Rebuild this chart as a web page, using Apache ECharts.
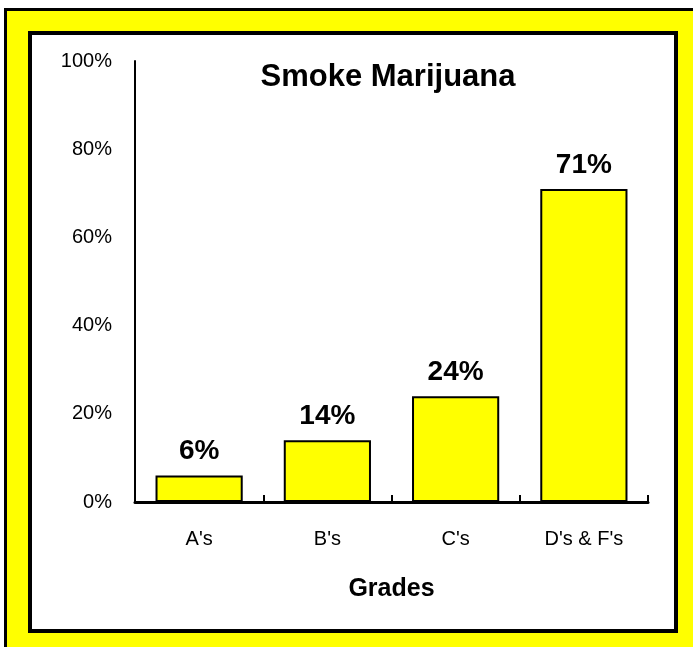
<!DOCTYPE html>
<html><head><meta charset="utf-8">
<script src="https://cdn.jsdelivr.net/npm/echarts@6/dist/echarts.min.js"></script>
<style>html,body{margin:0;padding:0;background:#fff}#c{width:693px;height:647px}</style>
</head><body><div id="c"></div>
<script>
var categories = ["A's", "B's", "C's", "D's & F's"];
var values = [6, 14, 24, 71];
var yTicks = [0, 20, 40, 60, 80, 100];
var titleText = 'Smoke Marijuana';
var xName = 'Grades';

var chart = echarts.init(document.getElementById('c'), null, {renderer: 'canvas'});
var F = '"Liberation Sans", Arial, sans-serif';
chart.setOption({
  animation: false,
  backgroundColor: '#fff',
  graphic: [
    {type: 'rect', z: -10, shape: {x: 4, y: 8, width: 720, height: 680}, style: {fill: '#000'}},
    {type: 'rect', z: -9, shape: {x: 7, y: 11, width: 720, height: 680}, style: {fill: '#ffff00'}},
    {type: 'rect', z: -8, shape: {x: 30, y: 33, width: 646, height: 598}, style: {fill: '#fff', stroke: '#000', lineWidth: 4}}
  ],
  title: {
    text: titleText, left: 383, top: 57, textAlign: 'center',
    textStyle: {fontFamily: F, fontSize: 31, fontWeight: 'bold', color: '#000'}
  },
  grid: {left: 135, right: 45, top: 61, bottom: 145, containLabel: false},
  xAxis: {
    type: 'category', data: categories,
    name: xName, nameLocation: 'middle', nameGap: 75,
    nameTextStyle: {fontFamily: F, fontSize: 25, fontWeight: 'bold', color: '#000', verticalAlign: 'top'},
    axisLine: {lineStyle: {color: '#000', width: 3}},
    axisTick: {show: true, inside: true, length: 7, alignWithLabel: false, lineStyle: {color: '#000', width: 2}},
    axisLabel: {fontFamily: F, fontSize: 20, color: '#000', margin: 27}
  },
  yAxis: {
    type: 'value', min: yTicks[0], max: yTicks[yTicks.length - 1], interval: 20,
    axisLine: {show: true, lineStyle: {color: '#000', width: 2}},
    axisTick: {show: false},
    splitLine: {show: false},
    axisLabel: {fontFamily: F, fontSize: 20, color: '#000', margin: 23, formatter: '{value}%'}
  },
  series: [{
    type: 'bar', data: values, barWidth: '68%',
    itemStyle: {color: '#ffff00', borderColor: '#000', borderWidth: 2},
    label: {show: true, position: 'top', distance: 10, formatter: '{c}%',
      fontFamily: F, fontSize: 28, fontWeight: 'bold', color: '#000'}
  }]
});
</script></body></html>
